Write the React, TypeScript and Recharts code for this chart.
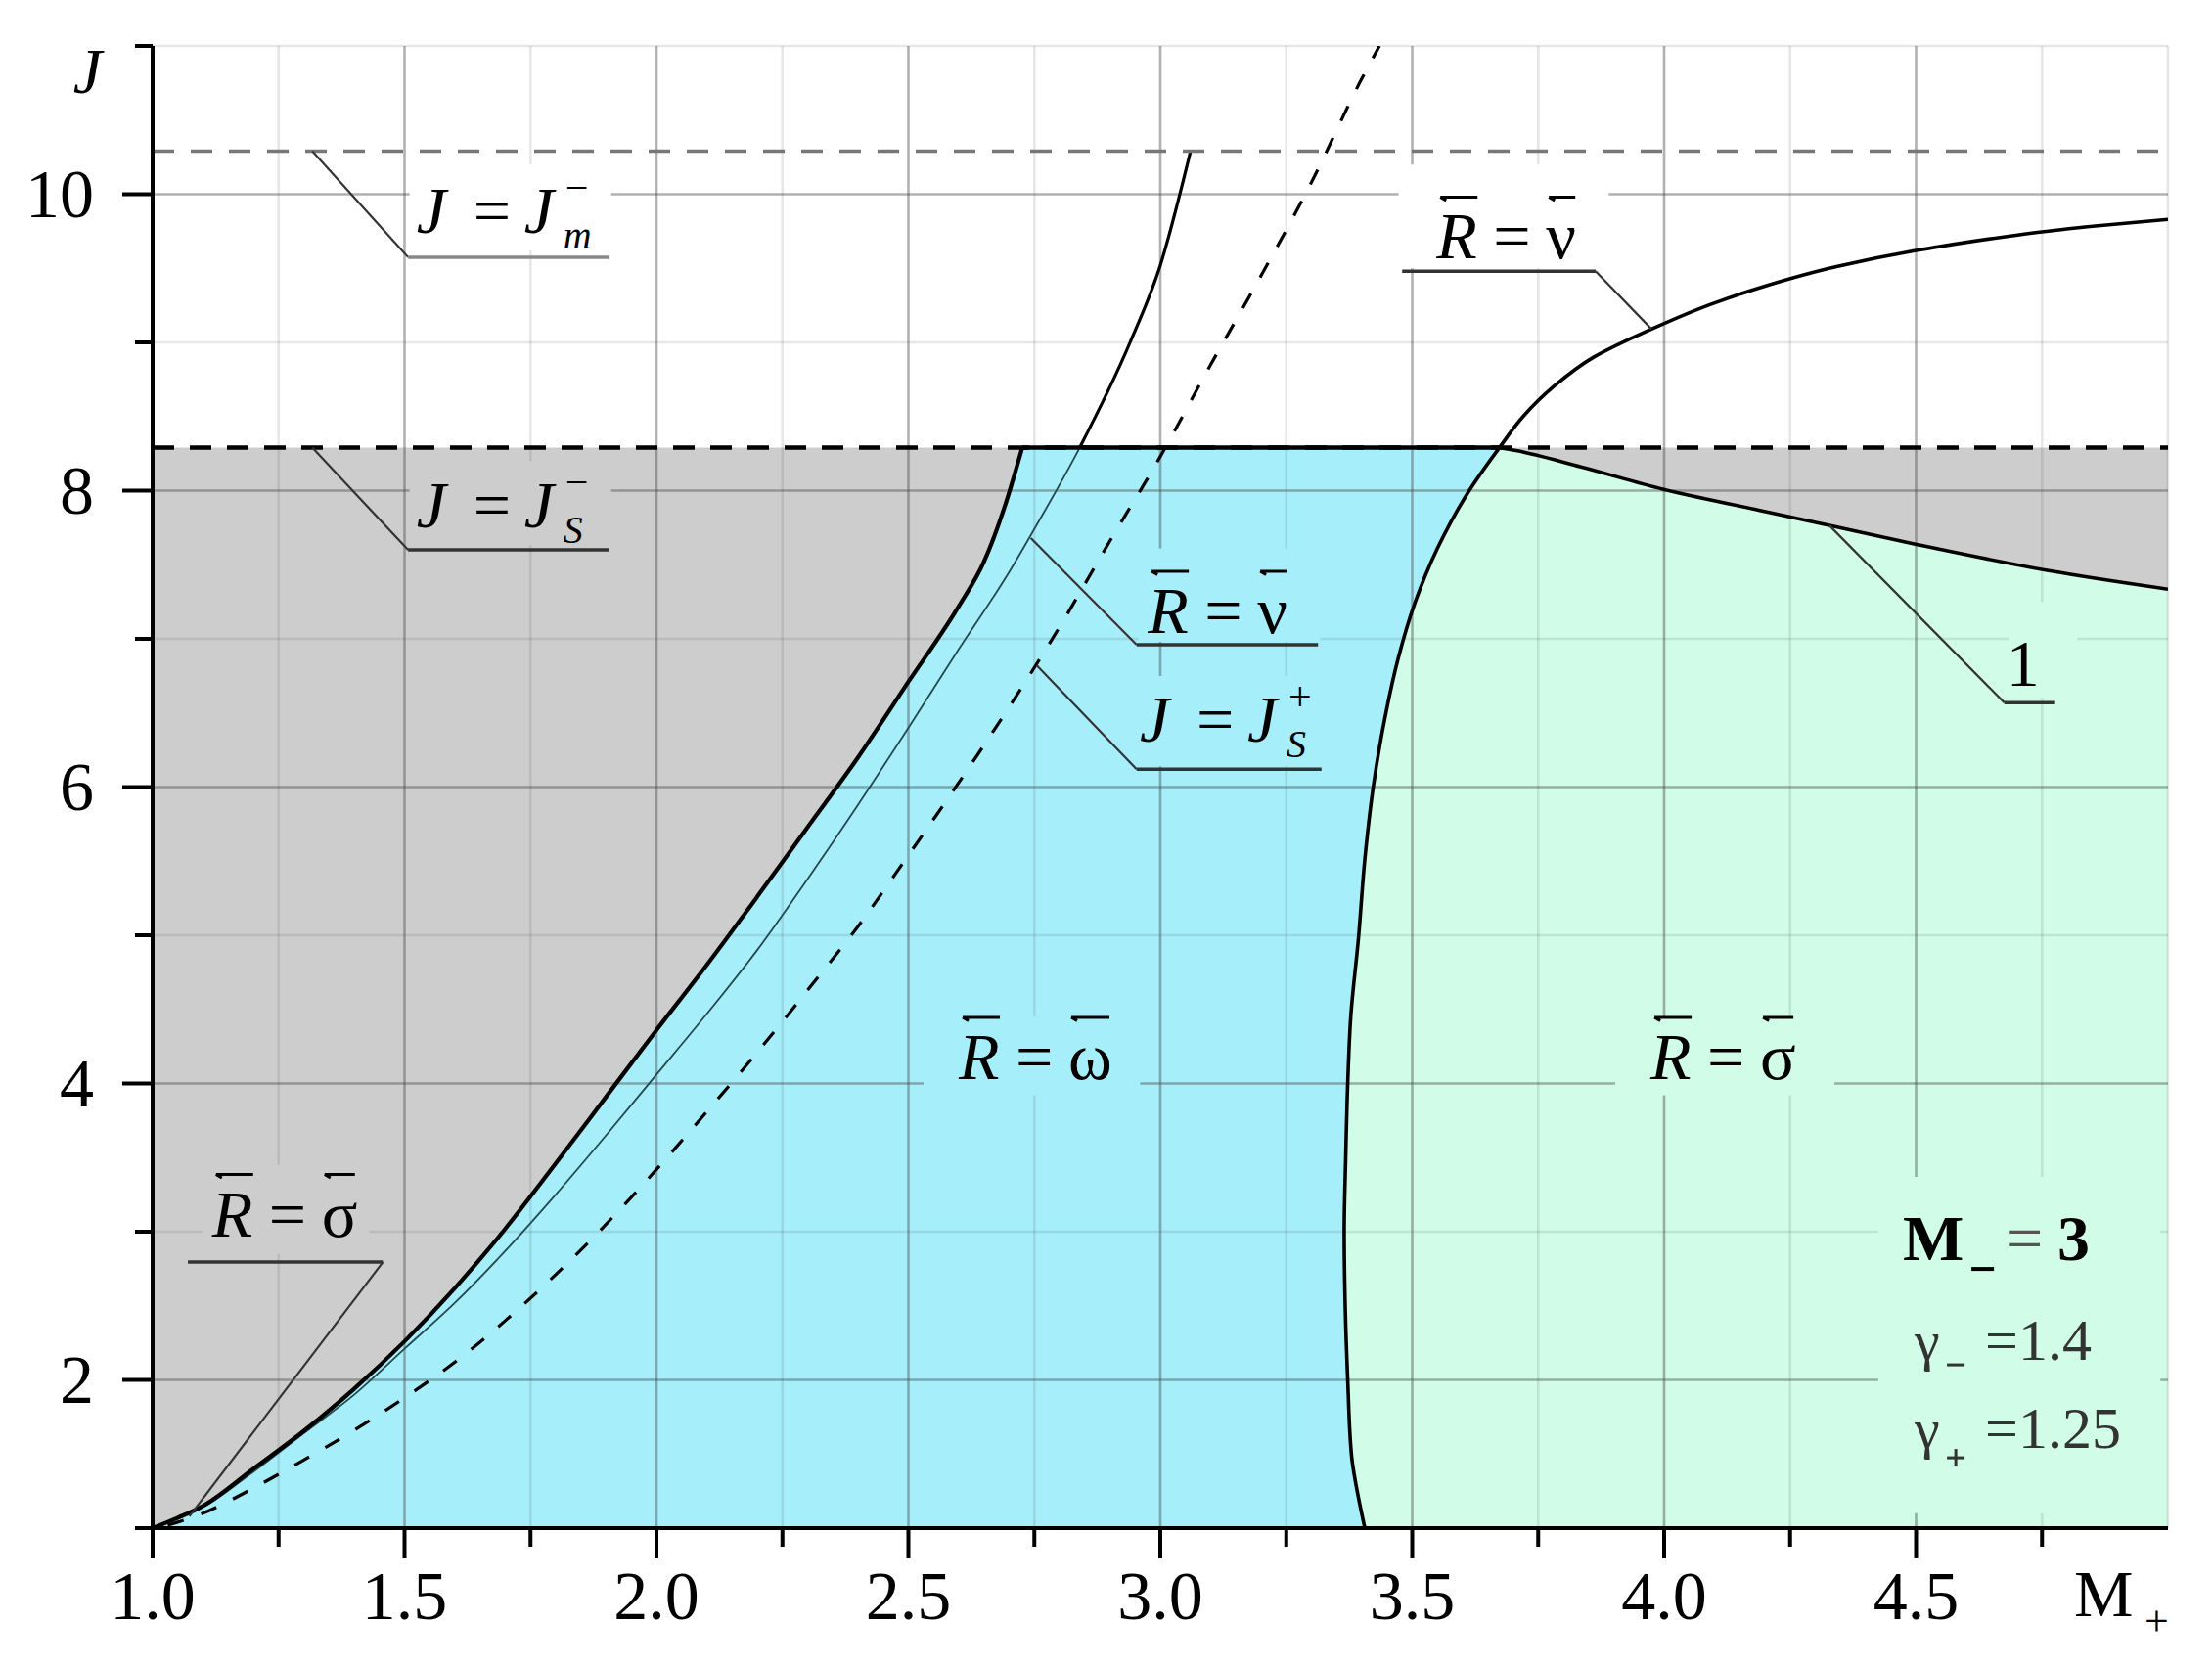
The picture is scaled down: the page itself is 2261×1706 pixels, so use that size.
import React from 'react';
import {
  ComposedChart, Area, Line, XAxis, YAxis, ReferenceLine, ReferenceArea, ReferenceDot,
} from 'recharts';

// ---------- data ----------
const JS_MINUS = 8.29;   // J = J_S^-
const JM_MINUS = 10.29;  // J = J_m^-

const xTicks = [1, 1.25, 1.5, 1.75, 2, 2.25, 2.5, 2.75, 3, 3.25, 3.5, 3.75, 4, 4.25, 4.5, 4.75, 5];
const yTicks = [1, 2, 3, 4, 5, 6, 7, 8, 9, 10, 11];
const gridXMajor = [1.5, 2, 2.5, 3, 3.5, 4, 4.5];
const gridXMinor = [1.25, 1.75, 2.25, 2.75, 3.25, 3.75, 4.25, 4.75, 5];
const gridYMajor = [2, 4, 6, 8, 10];
const gridYMinor = [3, 5, 7, 9, 11];

// thick boundary  (R = sigma  /  R = omega)
const curveA: [number, number][] = [
  [1.0, 1.0], [1.05, 1.07], [1.1, 1.15], [1.2, 1.4], [1.3, 1.655], [1.4, 1.94], [1.5, 2.26],
  [1.6, 2.62], [1.7, 3.02], [1.8, 3.46], [1.9, 3.91], [2.0, 4.36], [2.1, 4.8], [2.2, 5.26],
  [2.3, 5.73], [2.4, 6.2], [2.5, 6.71], [2.6, 7.22], [2.65, 7.52], [2.69, 7.88], [2.726, 8.29],
];
// thin curve R = nu (left)
const curveB: [number, number][] = [
  [1.0, 1.0], [1.1, 1.14], [1.2, 1.38], [1.3, 1.64], [1.4, 1.9], [1.5, 2.21], [1.6, 2.52],
  [1.7, 2.87], [1.8, 3.25], [1.9, 3.65], [2.0, 4.06], [2.1, 4.47], [2.2, 4.9], [2.3, 5.38],
  [2.4, 5.88], [2.5, 6.4], [2.6, 6.93], [2.7, 7.45], [2.76, 7.8], [2.84, 8.29], [2.94, 9.0],
  [3.0, 9.52], [3.06, 10.29],
];
// dashed curve J = J_S^+
const curveC: [number, number][] = [
  [1.03, 1.02], [1.1, 1.1], [1.2, 1.27], [1.3, 1.46], [1.4, 1.66], [1.5, 1.88], [1.6, 2.12],
  [1.7, 2.4], [1.8, 2.71], [1.9, 3.05], [2.0, 3.42], [2.1, 3.81], [2.2, 4.21], [2.3, 4.63],
  [2.4, 5.06], [2.5, 5.54], [2.6, 6.03], [2.7, 6.54], [2.8, 7.08], [2.9, 7.66], [3.0, 8.23],
  [3.1, 8.85], [3.2, 9.45], [3.3, 10.08], [3.4, 10.78], [3.435, 11.0],
];
// right boundary R = nu (right)
const curveD: [number, number][] = [
  [3.406, 1.0], [3.393, 1.21], [3.38, 1.475], [3.372, 2.0], [3.367, 2.5], [3.365, 3.0],
  [3.368, 3.5], [3.372, 4.0], [3.378, 4.45], [3.393, 4.97], [3.407, 5.55], [3.423, 6.01],
  [3.446, 6.47], [3.472, 6.866], [3.505, 7.24], [3.55, 7.61], [3.615, 8.01], [3.673, 8.29],
  [3.72, 8.5], [3.78, 8.7], [3.86, 8.9], [3.975, 9.09], [4.095, 9.26], [4.2, 9.38],
  [4.34, 9.51], [4.5, 9.62], [4.67, 9.71], [4.84, 9.78], [5.0, 9.83],
];
// curve 1
const curveE: [number, number][] = [
  [3.673, 8.29], [3.706, 8.27], [3.835, 8.16], [3.997, 8.01], [4.19, 7.867], [4.328, 7.765],
  [4.503, 7.636], [4.763, 7.46], [5.0, 7.335],
];

// label anchors (data coordinates: left/baseline)
const labelJm = { x: 1.524, y: 9.74 };
const labelJs = { x: 1.524, y: 7.75 };
const labelNuTop = { x: 3.548, y: 9.565 };
const labelNuMid = { x: 2.975, y: 7.04 };
const labelJsPlus = { x: 2.959, y: 6.305 };
const labelOmega = { x: 2.6, y: 4.03 };
const labelSigmaR = { x: 3.973, y: 4.03 };
const labelSigmaL = { x: 1.118, y: 2.97 };
const labelOne = { x: 4.712, y: 6.68 };
const labelParams = { x: 4.474, y: 2.808 };

// leader lines & underlines [x1, y1, x2, y2]
const leaders: [number, number, number, number][] = [
  [1.317, JM_MINUS, 1.507, 9.575],
  [1.317, JS_MINUS, 1.507, 7.6],
  [3.864, 9.48, 3.975, 9.09],
  [2.743, 7.68, 2.953, 6.96],
  [2.755, 6.82, 2.953, 6.12],
  [1.073, 1.08, 1.457, 2.795],
  [4.328, 7.765, 4.675, 6.57],
];
const underlines: [number, number, number, number][] = [
  [1.507, 9.575, 1.907, 9.575],
  [1.507, 7.6, 1.905, 7.6],
  [3.48, 9.48, 3.864, 9.48],
  [2.953, 6.96, 3.313, 6.96],
  [2.953, 6.12, 3.32, 6.12],
  [1.07, 2.795, 1.457, 2.795],
  [4.675, 6.57, 4.776, 6.57],
];

// label background boxes [x1, x2, y1, y2, region]
const boxes: [number, number, number, number, string][] = [
  [1.51, 1.91, 9.62, 10.2, 'white'],
  [1.51, 1.91, 7.63, 8.2, 'gray'],
  [3.473, 3.89, 9.5, 10.2, 'white'],
  [2.957, 3.317, 6.98, 7.61, 'cyan'],
  [2.957, 3.33, 6.14, 6.75, 'cyan'],
  [2.53, 2.96, 3.92, 4.45, 'cyan'],
  [3.903, 4.338, 3.92, 4.45, 'green'],
  [1.1, 1.43, 2.85, 3.45, 'gray'],
  [4.685, 4.82, 6.6, 7.25, 'green'],
  [4.425, 4.985, 1.1, 3.37, 'green'],
];

// ---------- styles ----------
const COLORS: Record<string, string> = {
  white: '#ffffff', gray: '#cdcdcd', cyan: '#a5eefa', green: '#d0fce8',
};
const FONT = "'Liberation Serif','Times New Roman',serif";

const toXY = (pts: [number, number][]) => pts.map(([x, y]) => ({ x, y }));
const toRange = (pts: [number, number][]) => pts.map(([x, y]) => ({ x, r: [1, y] }));

const grayFill = [{ x: 1, r: [1, JS_MINUS] }, { x: 5, r: [1, JS_MINUS] }];
const cyanFill = [...toRange(curveA), { x: 3.676, r: [1, JS_MINUS] }];
const greenFill = [...toRange(curveD.filter(([, y]) => y <= JS_MINUS)), ...toRange(curveE.slice(1))];
const bTop = curveB.filter(([, y]) => y >= JS_MINUS);

// ---------- ticks ----------
const XTick = (props: any) => {
  const { x, y, payload } = props;
  const v: number = payload.value;
  if (v === 5) {
    return (
      <g fontFamily={FONT} fill="#000">
        <text x={x - 96} y={y + 90} fontSize={68}>M</text>
        <text x={x - 24} y={y + 110} fontSize={44}>+</text>
      </g>
    );
  }
  const major = Math.abs(v * 2 - Math.round(v * 2)) < 1e-6;
  return (
    <g>
      <line x1={x} x2={x} y1={y} y2={y + (major ? 31 : 19)} stroke="#000" strokeWidth={4} />
      {major && (
        <text x={x} y={y + 93} textAnchor="middle" fontFamily={FONT} fontSize={70} fill="#000">
          {v.toFixed(1)}
        </text>
      )}
    </g>
  );
};

const YTick = (props: any) => {
  const { x, y, payload } = props;
  const v: number = payload.value;
  const major = v % 2 === 0;
  return (
    <g>
      <line x1={x - (major ? 31 : 18)} x2={x} y1={y} y2={y} stroke="#000" strokeWidth={4} />
      {major && (
        <text x={x - 60} y={y + 23} textAnchor="end" fontFamily={FONT} fontSize={70} fill="#000">
          {v}
        </text>
      )}
      {v === 11 && (
        <text x={x - 52} y={y + 48} textAnchor="end" fontFamily={FONT} fontStyle="italic" fontSize={66} fill="#000">
          J
        </text>
      )}
    </g>
  );
};

// ---------- labels ----------
const OverArrow = ({ x1, x2, y }: { x1: number; x2: number; y: number }) => (
  <path d={`M${x1},${y} L${x2},${y} M${x1},${y} l6,3.5`} stroke="#000" strokeWidth={3} fill="none" />
);

const RLabel = ({ cx, cy, sym, w }: { cx: number; cy: number; sym: string; w: number }) => (
  <g fontFamily={FONT} fill="#000">
    <text x={cx} y={cy} fontSize={68} fontStyle="italic">R</text>
    <text x={cx + 58} y={cy} fontSize={68}>=</text>
    <text x={cx + 112} y={cy} fontSize={68}>{sym}</text>
    <OverArrow x1={cx + 4} x2={cx + 42} y={cy - 63} />
    <OverArrow x1={cx + 115} x2={cx + 112 + w} y={cy - 63} />
  </g>
);

const JLabel = ({ cx, cy, sup, sub }: { cx: number; cy: number; sup: string; sub: string }) => (
  <g fontFamily={FONT} fill="#000">
    <text x={cx} y={cy} fontSize={68} fontStyle="italic">J</text>
    <text x={cx + 58} y={cy} fontSize={68}>=</text>
    <text x={cx + 110} y={cy} fontSize={68} fontStyle="italic">J</text>
    <text x={cx + 152} y={cy - 32} fontSize={42}>{sup}</text>
    <text x={cx + 150} y={cy + 16} fontSize={40} fontStyle="italic">{sub}</text>
  </g>
);

const OneLabel = ({ cx, cy }: { cx: number; cy: number }) => (
  <text x={cx} y={cy} textAnchor="middle" fontFamily={FONT} fontSize={68} fill="#000">1</text>
);

const ParamsLabel = ({ cx, cy }: { cx: number; cy: number }) => (
  <g fontFamily={FONT} fill="#000">
    <text x={cx} y={cy} fontSize={66} fontWeight="bold">M</text>
    <line x1={cx + 70} x2={cx + 93} y1={cy + 9} y2={cy + 9} stroke="#000" strokeWidth={4} />
    <text x={cx + 106} y={cy} fontSize={66} fill="#555">=</text>
    <text x={cx + 158} y={cy} fontSize={66} fontWeight="bold">3</text>

    <text x={cx + 12} y={cy + 102} fontSize={58} fill="#333">γ</text>
    <line x1={cx + 45} x2={cx + 63} y1={cy + 107} y2={cy + 107} stroke="#333" strokeWidth={3} />
    <text x={cx + 84} y={cy + 102} fontSize={60} fill="#333">=1.4</text>

    <text x={cx + 12} y={cy + 192} fontSize={58} fill="#333">γ</text>
    <line x1={cx + 45} x2={cx + 63} y1={cy + 202} y2={cy + 202} stroke="#333" strokeWidth={3} />
    <line x1={cx + 54} x2={cx + 54} y1={cy + 193} y2={cy + 211} stroke="#333" strokeWidth={3} />
    <text x={cx + 84} y={cy + 192} fontSize={60} fill="#333">=1.25</text>
  </g>
);

const dot = (pos: { x: number; y: number }, render: (cx: number, cy: number) => React.ReactElement, key: string) => (
  <ReferenceDot
    key={key}
    x={pos.x}
    y={pos.y}
    r={0}
    fill="none"
    stroke="none"
    ifOverflow="visible"
    zIndex={2000}
    shape={(p: any) => render(p.cx, p.cy)}
  />
);

export default function App() {
  return (
    <div style={{ width: 2245, height: 1690, background: '#fff' }}>
      <ComposedChart width={2245} height={1690} margin={{ top: 39, right: 37, bottom: 36, left: 48 }}>
        {/* fills */}
        <Area data={grayFill} dataKey="r" type="linear" fill={COLORS.gray} fillOpacity={1} stroke="none" isAnimationActive={false} zIndex={100} />
        <Area data={cyanFill} dataKey="r" type="linear" fill={COLORS.cyan} fillOpacity={1} stroke="none" isAnimationActive={false} zIndex={100} />
        <Area data={greenFill} dataKey="r" type="linear" fill={COLORS.green} fillOpacity={1} stroke="none" isAnimationActive={false} zIndex={100} />

        {/* grid */}
        {gridXMinor.map((v) => (
          <ReferenceLine key={`gxm${v}`} x={v} stroke="#464646" strokeOpacity={0.13} strokeWidth={2.6} zIndex={150} />
        ))}
        {gridYMinor.map((v) => (
          <ReferenceLine key={`gym${v}`} y={v} stroke="#464646" strokeOpacity={0.13} strokeWidth={2.6} zIndex={150} />
        ))}
        {gridXMajor.map((v) => (
          <ReferenceLine key={`gx${v}`} x={v} stroke="#464646" strokeOpacity={0.42} strokeWidth={2.6} zIndex={150} />
        ))}
        {gridYMajor.map((v) => (
          <ReferenceLine key={`gy${v}`} y={v} stroke="#464646" strokeOpacity={0.42} strokeWidth={2.6} zIndex={150} />
        ))}

        {/* label backgrounds */}
        {boxes.map(([x1, x2, y1, y2, c], i) => (
          <ReferenceArea key={`box${i}`} x1={x1} x2={x2} y1={y1} y2={y2} fill={COLORS[c]} fillOpacity={1} stroke="none" zIndex={160} />
        ))}

        {/* horizontal levels */}
        <ReferenceLine y={JM_MINUS} stroke="#777" strokeWidth={3.5} strokeDasharray="22 17" zIndex={420} />
        <ReferenceLine y={JS_MINUS} stroke="#000" strokeWidth={4.5} strokeDasharray="22 16" zIndex={420} />
        <ReferenceLine segment={[{ x: 2.726, y: JS_MINUS }, { x: 3.673, y: JS_MINUS }]} stroke="#000" strokeWidth={4.5} zIndex={420} />

        {/* curves */}
        <Line data={toXY(curveB)} dataKey="y" type="monotone" stroke="#24484d" strokeWidth={1.8} dot={false} isAnimationActive={false} />
        <Line data={toXY(bTop)} dataKey="y" type="monotone" stroke="#000" strokeWidth={3.2} dot={false} isAnimationActive={false} />
        <Line data={toXY(curveC)} dataKey="y" type="monotone" stroke="#000" strokeWidth={3.2} strokeDasharray="17 19" dot={false} isAnimationActive={false} />
        <Line data={toXY(curveA)} dataKey="y" type="monotone" stroke="#000" strokeWidth={4.2} dot={false} isAnimationActive={false} />
        <Line data={toXY(curveD)} dataKey="y" type="monotoneY" stroke="#000" strokeWidth={3.6} dot={false} isAnimationActive={false} />
        <Line data={toXY(curveE)} dataKey="y" type="monotone" stroke="#000" strokeWidth={3.6} dot={false} isAnimationActive={false} />

        {/* leaders & underlines */}
        {leaders.map(([x1, y1, x2, y2], i) => (
          <ReferenceLine key={`ld${i}`} segment={[{ x: x1, y: y1 }, { x: x2, y: y2 }]} stroke="#333" strokeWidth={2.2} zIndex={500} />
        ))}
        {underlines.map(([x1, y1, x2, y2], i) => (
          <ReferenceLine key={`ul${i}`} segment={[{ x: x1, y: y1 }, { x: x2, y: y2 }]} stroke={i === 0 ? '#888' : '#333'} strokeWidth={3.5} zIndex={500} />
        ))}

        {/* text labels */}
        {dot(labelJm, (cx, cy) => <JLabel cx={cx} cy={cy} sup="−" sub="m" />, 'l1')}
        {dot(labelJs, (cx, cy) => <JLabel cx={cx} cy={cy} sup="−" sub="S" />, 'l2')}
        {dot(labelNuTop, (cx, cy) => <RLabel cx={cx} cy={cy} sym="ν" w={30} />, 'l3')}
        {dot(labelNuMid, (cx, cy) => <RLabel cx={cx} cy={cy} sym="ν" w={30} />, 'l4')}
        {dot(labelJsPlus, (cx, cy) => <JLabel cx={cx} cy={cy} sup="+" sub="S" />, 'l5')}
        {dot(labelOmega, (cx, cy) => <RLabel cx={cx} cy={cy} sym="ω" w={42} />, 'l6')}
        {dot(labelSigmaR, (cx, cy) => <RLabel cx={cx} cy={cy} sym="σ" w={34} />, 'l7')}
        {dot(labelSigmaL, (cx, cy) => <RLabel cx={cx} cy={cy} sym="σ" w={34} />, 'l8')}
        {dot(labelOne, (cx, cy) => <OneLabel cx={cx} cy={cy} />, 'l9')}
        {dot(labelParams, (cx, cy) => <ParamsLabel cx={cx} cy={cy} />, 'l10')}

        <XAxis
          type="number"
          dataKey="x"
          domain={[1, 5]}
          ticks={xTicks}
          interval={0}
          allowDataOverflow
          height={100}
          tickLine={false}
          tickSize={0}
          tickMargin={0}
          tick={(p: any) => <XTick {...p} />}
          axisLine={{ stroke: '#000', strokeWidth: 4 }}
        />
        <YAxis
          type="number"
          domain={[1, 11]}
          ticks={yTicks}
          interval={0}
          allowDataOverflow
          width={100}
          tickLine={false}
          tickSize={0}
          tickMargin={0}
          tick={(p: any) => <YTick {...p} />}
          axisLine={{ stroke: '#000', strokeWidth: 4 }}
        />
      </ComposedChart>
    </div>
  );
}
